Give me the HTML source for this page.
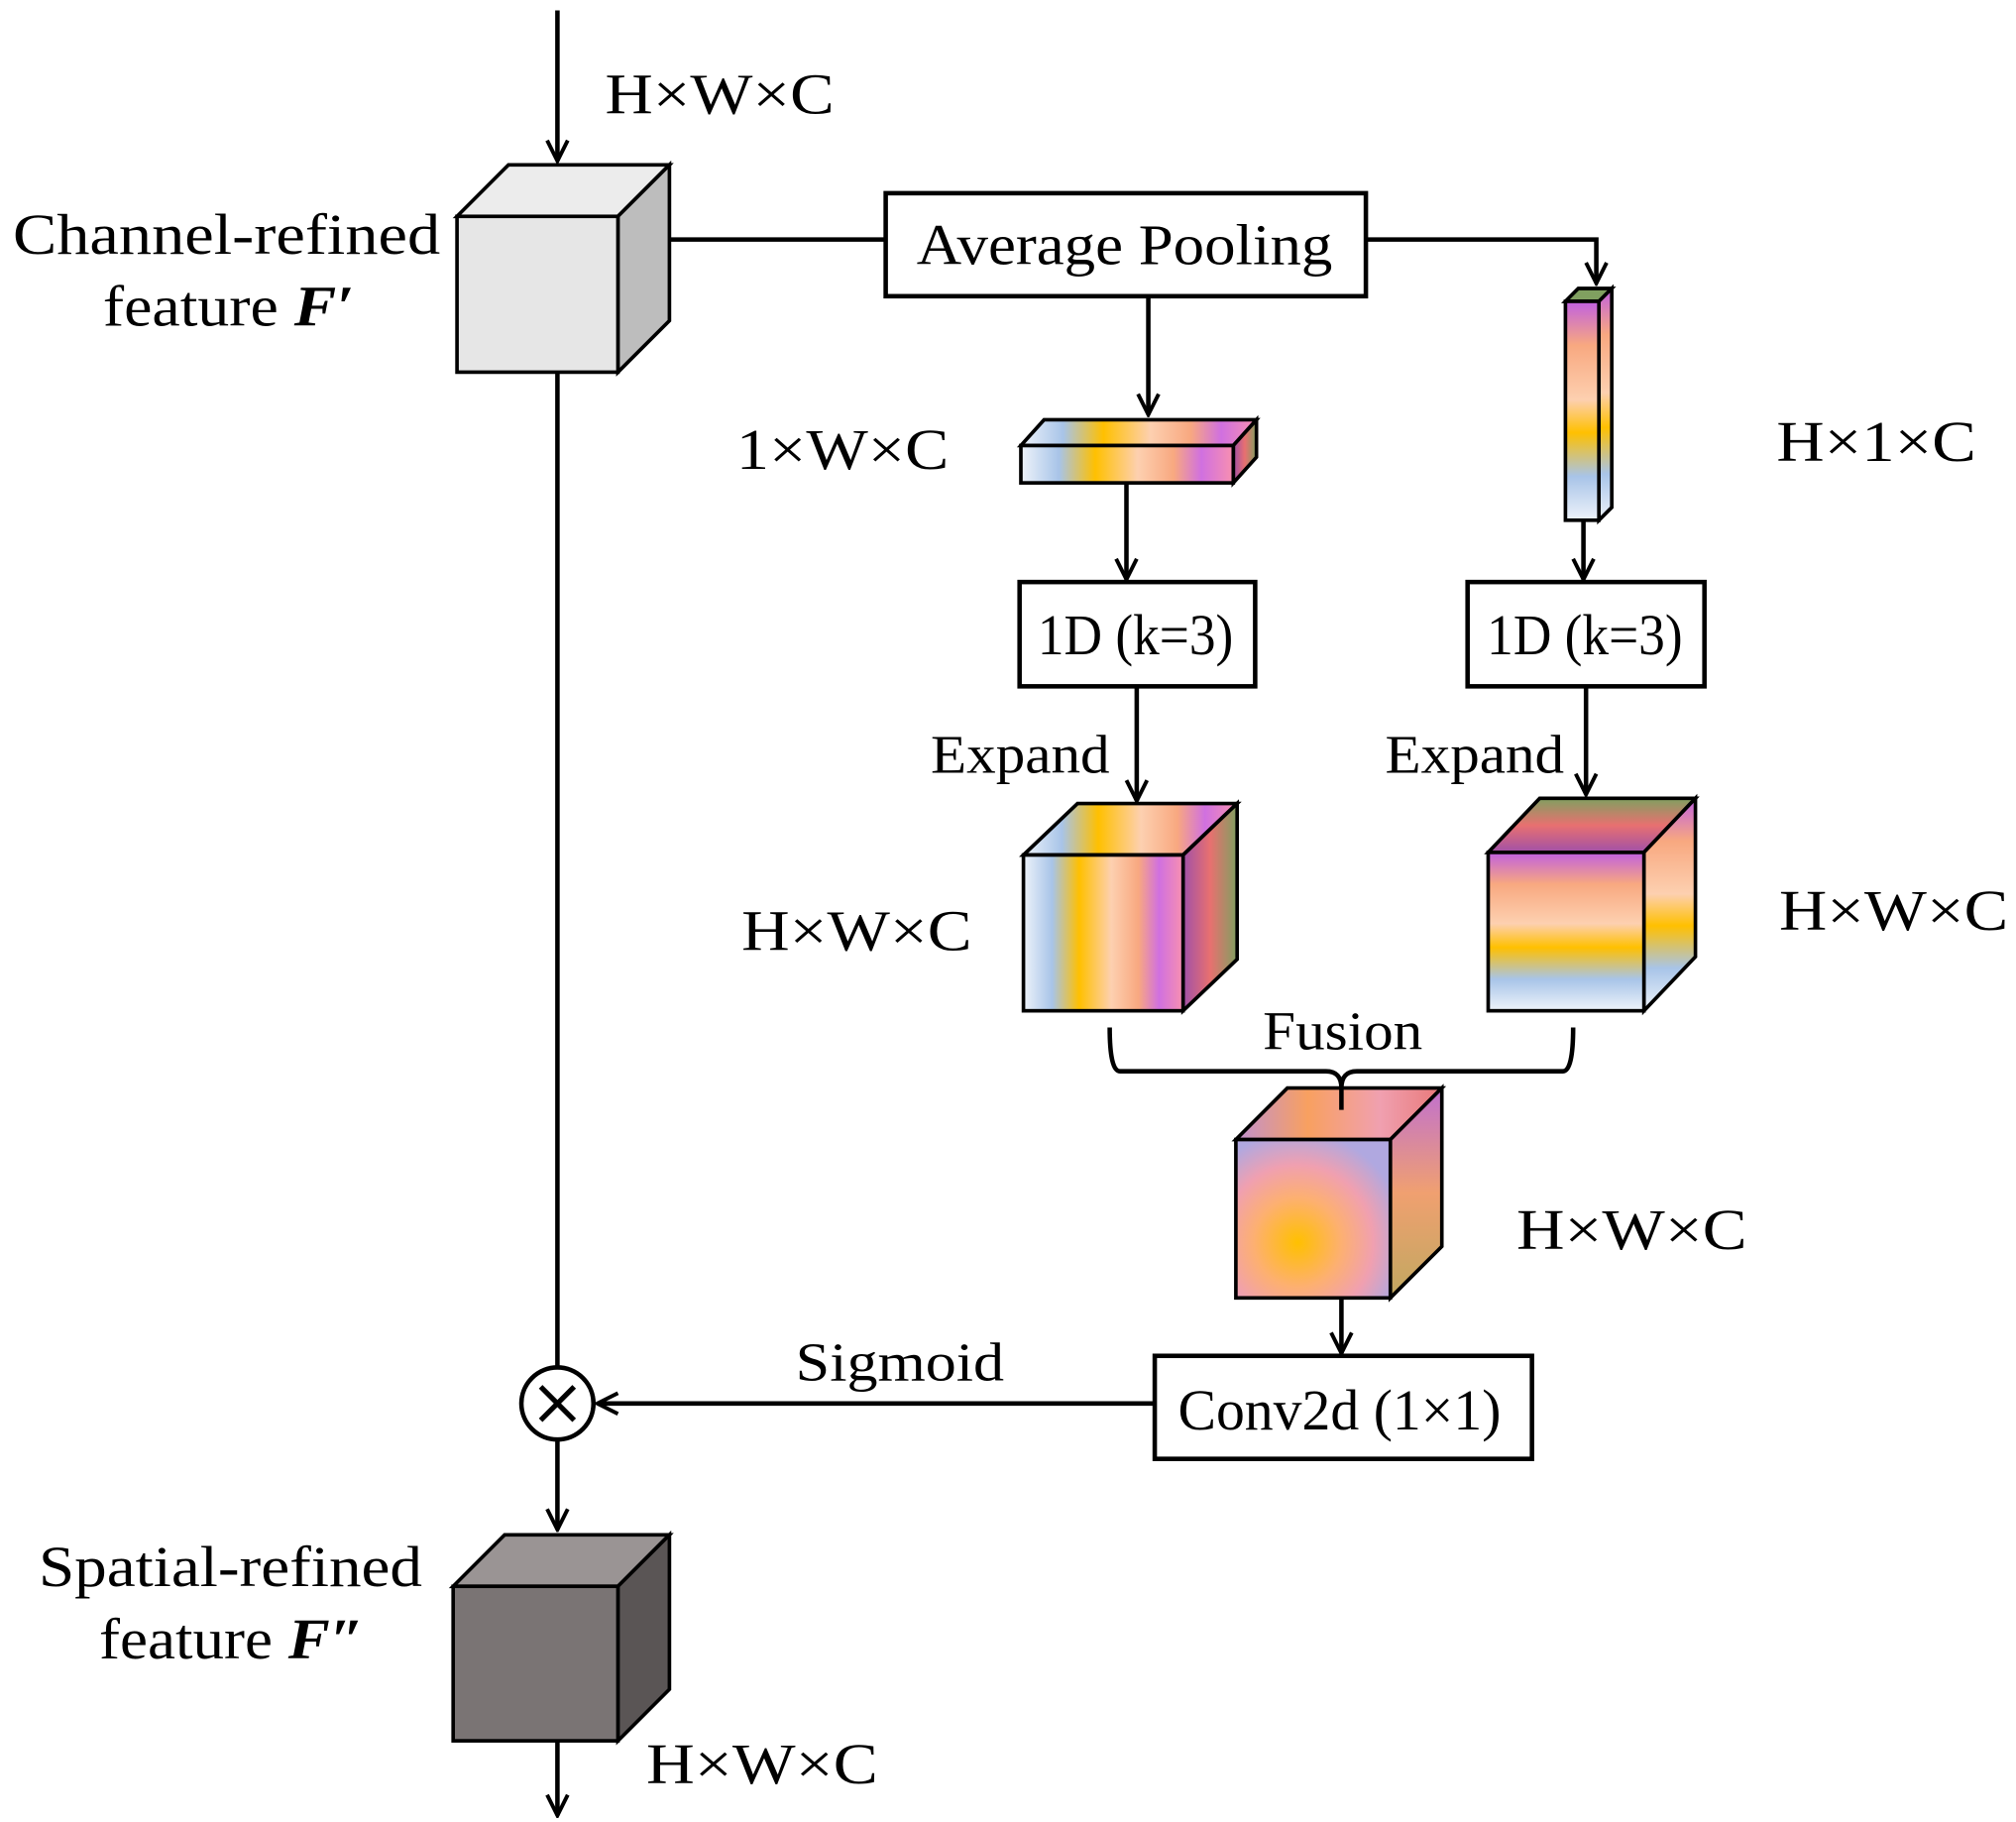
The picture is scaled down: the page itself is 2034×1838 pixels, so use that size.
<!DOCTYPE html>
<html><head><meta charset="utf-8"><style>html,body{margin:0;padding:0;background:#fff}svg{display:block}</style></head>
<body>
<svg width="2034" height="1838" viewBox="0 0 1566 1415" xmlns="http://www.w3.org/2000/svg" font-family="Liberation Serif, serif">
<defs>
<marker id="ar" viewBox="0 0 20 20" refX="18" refY="10" markerWidth="20" markerHeight="20" markerUnits="userSpaceOnUse" orient="auto">
<path d="M2,2 L18,10 L2,18" fill="none" stroke="#000" stroke-width="3"/></marker>
<linearGradient id="gh" x1="0" y1="0" x2="1" y2="0">
<stop offset="0" stop-color="#eef3fa"/><stop offset="0.18" stop-color="#a8c4e8"/><stop offset="0.35" stop-color="#ffc000"/><stop offset="0.55" stop-color="#fdd0b0"/><stop offset="0.72" stop-color="#f8a880"/><stop offset="0.85" stop-color="#d070e0"/><stop offset="1" stop-color="#f890b0"/></linearGradient>
<linearGradient id="ghr" x1="0" y1="0" x2="1" y2="0">
<stop offset="0" stop-color="#a050a8"/><stop offset="0.5" stop-color="#e87070"/><stop offset="1" stop-color="#80a060"/></linearGradient>
<linearGradient id="gv" x1="0" y1="0" x2="0" y2="1">
<stop offset="0" stop-color="#c060e0"/><stop offset="0.2" stop-color="#f8a880"/><stop offset="0.45" stop-color="#fdd0b0"/><stop offset="0.6" stop-color="#ffc000"/><stop offset="0.8" stop-color="#a8c4e8"/><stop offset="1" stop-color="#eef3fa"/></linearGradient>
<linearGradient id="gvt" x1="0" y1="1" x2="0" y2="0">
<stop offset="0" stop-color="#a050a8"/><stop offset="0.5" stop-color="#e87070"/><stop offset="1" stop-color="#80a060"/></linearGradient>
<linearGradient id="gft" x1="0" y1="0" x2="1" y2="0">
<stop offset="0" stop-color="#c090d0"/><stop offset="0.35" stop-color="#f8a060"/><stop offset="0.7" stop-color="#f0a0b0"/><stop offset="1" stop-color="#e87878"/></linearGradient>
<linearGradient id="gfr" x1="0" y1="0" x2="0" y2="1">
<stop offset="0" stop-color="#c070d0"/><stop offset="0.5" stop-color="#f0a070"/><stop offset="1" stop-color="#c0a860"/></linearGradient>
<radialGradient id="gf" cx="0.4" cy="0.65" r="0.7">
<stop offset="0" stop-color="#ffc000"/><stop offset="0.4" stop-color="#fdb070"/><stop offset="0.7" stop-color="#f0a0b0"/><stop offset="1" stop-color="#b0a8e0"/></radialGradient>
</defs>
<g stroke="#000" stroke-width="3.5" fill="none">
<line x1="433" y1="8" x2="433" y2="125" marker-end="url(#ar)"/>
<line x1="433" y1="289" x2="433" y2="1062"/>
<line x1="433" y1="1118" x2="433" y2="1188" marker-end="url(#ar)"/>
<line x1="433" y1="1352" x2="433" y2="1410" marker-end="url(#ar)"/>
<line x1="520" y1="186" x2="688" y2="186"/>
<polyline points="1061,186 1240,186 1240,220" marker-end="url(#ar)"/>
<line x1="892" y1="230" x2="892" y2="322" marker-end="url(#ar)"/>
<line x1="875" y1="375" x2="875" y2="450" marker-end="url(#ar)"/>
<line x1="1230" y1="404" x2="1230" y2="450" marker-end="url(#ar)"/>
<line x1="883" y1="533" x2="883" y2="622" marker-end="url(#ar)"/>
<line x1="1232" y1="533" x2="1232" y2="617" marker-end="url(#ar)"/>
<line x1="1042" y1="1008" x2="1042" y2="1051" marker-end="url(#ar)"/>
<line x1="897" y1="1090" x2="464" y2="1090" marker-end="url(#ar)"/>
</g>
<g stroke="#000" stroke-width="2.8">
<polygon points="355,168 395,128 520,128 480,168" fill="#ececec"/>
<polygon points="480,168 520,128 520,249 480,289" fill="#bdbdbd"/>
<rect x="355" y="168" width="125" height="121" fill="#e6e6e6"/>
<polygon points="352,1232 392,1192 520,1192 480,1232" fill="#9a9494"/>
<polygon points="480,1232 520,1192 520,1312 480,1352" fill="#5a5555"/>
<rect x="352" y="1232" width="128" height="120" fill="#7a7474"/>
<polygon points="793,346 811,326 976,326 958,346" fill="url(#gh)"/>
<polygon points="958,346 976,326 976,355 958,375" fill="url(#ghr)"/>
<rect x="793" y="346" width="165" height="29" fill="url(#gh)"/>
<polygon points="1216,234 1226,224 1252,224 1242,234" fill="#80a060"/>
<polygon points="1242,234 1252,224 1252,394 1242,404" fill="url(#gv)"/>
<rect x="1216" y="234" width="26" height="170" fill="url(#gv)"/>
<polygon points="795,664 837,624 961,624 919,664" fill="url(#gh)"/>
<polygon points="919,664 961,624 961,745 919,785" fill="url(#ghr)"/>
<rect x="795" y="664" width="124" height="121" fill="url(#gh)"/>
<polygon points="1156,662 1196,620 1317,620 1277,662" fill="url(#gvt)"/>
<polygon points="1277,662 1317,620 1317,743 1277,785" fill="url(#gv)"/>
<rect x="1156" y="662" width="121" height="123" fill="url(#gv)"/>
<polygon points="960,885 1000,845 1120,845 1080,885" fill="url(#gft)"/>
<polygon points="1080,885 1120,845 1120,968 1080,1008" fill="url(#gfr)"/>
<rect x="960" y="885" width="120" height="123" fill="url(#gf)"/>
</g>
<g stroke="#000" stroke-width="3.5" fill="#fff">
<rect x="688" y="150" width="373" height="80"/>
<rect x="792" y="452" width="183" height="81"/>
<rect x="1140" y="452" width="184" height="81"/>
<rect x="897" y="1053" width="293" height="80"/>
<circle cx="433" cy="1090" r="28"/>
</g>
<g stroke="#000" stroke-width="4"><line x1="420" y1="1077" x2="446" y2="1103"/><line x1="446" y1="1077" x2="420" y2="1103"/></g>
<path d="M862,798 Q862,832 870,832 L1030,832 Q1042,832 1042,845 L1042,862 M1042,845 Q1042,832 1054,832 L1214,832 Q1222,832 1222,798" fill="none" stroke="#000" stroke-width="3.5"/>
<g font-size="45" fill="#000" lengthAdjust="spacingAndGlyphs">
<text x="470" y="88" textLength="178" lengthAdjust="spacingAndGlyphs">H×W×C</text>
<text x="10" y="197" textLength="332" lengthAdjust="spacingAndGlyphs">Channel-refined</text>
<text x="80" y="253" textLength="195" lengthAdjust="spacingAndGlyphs">feature <tspan font-weight="bold" font-style="italic">F′</tspan></text>
<text x="712" y="205" textLength="323" lengthAdjust="spacingAndGlyphs">Average Pooling</text>
<text x="572" y="364" textLength="165" lengthAdjust="spacingAndGlyphs">1×W×C</text>
<text x="1380" y="358" textLength="155" lengthAdjust="spacingAndGlyphs">H×1×C</text>
<text x="806" y="508" textLength="152" lengthAdjust="spacingAndGlyphs">1D (k=3)</text>
<text x="1155" y="508" textLength="152" lengthAdjust="spacingAndGlyphs">1D (k=3)</text>
<text x="576" y="738" textLength="179" lengthAdjust="spacingAndGlyphs">H×W×C</text>
<text x="1382" y="722" textLength="178" lengthAdjust="spacingAndGlyphs">H×W×C</text>
<text x="1178" y="970" textLength="179" lengthAdjust="spacingAndGlyphs">H×W×C</text>
<text x="915" y="1110" textLength="251" lengthAdjust="spacingAndGlyphs">Conv2d (1×1)</text>
<text x="30" y="1232" textLength="298" lengthAdjust="spacingAndGlyphs">Spatial-refined</text>
<text x="77" y="1288" textLength="206" lengthAdjust="spacingAndGlyphs">feature <tspan font-weight="bold" font-style="italic">F″</tspan></text>
<text x="502" y="1385" textLength="180" lengthAdjust="spacingAndGlyphs">H×W×C</text>
</g>
<g font-size="42" fill="#000">
<text x="723" y="600" textLength="139" lengthAdjust="spacingAndGlyphs">Expand</text>
<text x="1076" y="600" textLength="139" lengthAdjust="spacingAndGlyphs">Expand</text>
<text x="981" y="815" textLength="124" lengthAdjust="spacingAndGlyphs">Fusion</text>
<text x="618" y="1072" textLength="162" lengthAdjust="spacingAndGlyphs">Sigmoid</text>
</g>
</svg>
</body></html>
